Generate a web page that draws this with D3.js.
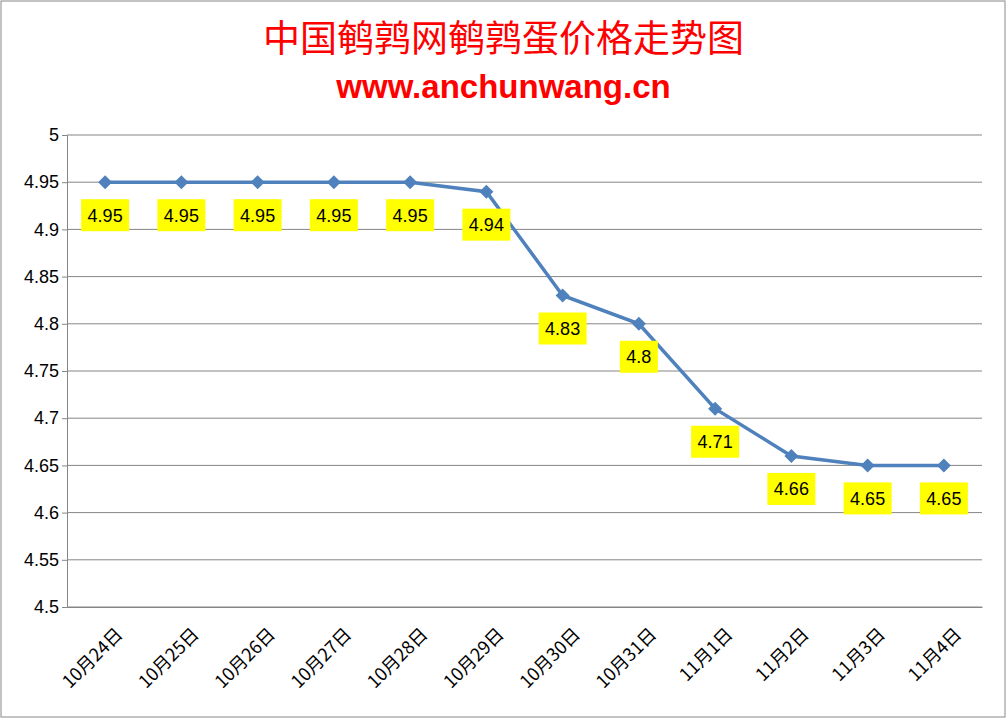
<!DOCTYPE html>
<html>
<head>
<meta charset="UTF-8">
<script src="https://d3js.org/d3.v7.min.js"></script>
<style>
body { margin: 0; background: #fff; }
</style>
</head>
<body>
<div id="chart"></div>
<script>
const dates = ["10月24日","10月25日","10月26日","10月27日","10月28日","10月29日","10月30日","10月31日","11月1日","11月2日","11月3日","11月4日"];
const prices = [4.95, 4.95, 4.95, 4.95, 4.95, 4.94, 4.83, 4.8, 4.71, 4.66, 4.65, 4.65];
const yTicks = [4.5, 4.55, 4.6, 4.65, 4.7, 4.75, 4.8, 4.85, 4.9, 4.95, 5];

const width = 1007, height = 719;
const margin = { top: 135, right: 25, bottom: 112, left: 67 };

const svg = d3.select("#chart").append("svg")
    .attr("width", width).attr("height", height);

svg.append("rect")
    .attr("x", 1).attr("y", 1).attr("width", width - 3).attr("height", height - 3)
    .attr("fill", "#fff").attr("stroke", "#888").attr("stroke-width", 1);

const x = d3.scaleBand().domain(dates).range([margin.left, width - margin.right]);
const y = d3.scaleLinear().domain([4.5, 5]).range([height - margin.bottom, margin.top]);

// grid
svg.append("g").selectAll("line").data(yTicks).enter().append("line")
    .attr("x1", margin.left).attr("x2", width - margin.right)
    .attr("y1", d => y(d)).attr("y2", d => y(d))
    .attr("stroke", "#868686").attr("stroke-width", 1);

// y axis
const yAxis = svg.append("g")
    .attr("transform", `translate(${margin.left},0)`)
    .call(d3.axisLeft(y).tickValues(yTicks).tickFormat(d => d3.format("")(+d.toFixed(2))).tickSize(5));
yAxis.select(".domain").attr("stroke", "#868686");
yAxis.selectAll(".tick line").attr("stroke", "#868686");
yAxis.selectAll("text").attr("font-family", "'Liberation Sans', Arial, sans-serif")
    .attr("font-size", "18px").attr("fill", "#000");

// x axis
const xAxis = svg.append("g")
    .attr("transform", `translate(0,${height - margin.bottom})`)
    .call(d3.axisBottom(x).tickSize(0));
xAxis.select(".domain").attr("stroke", "#868686");
xAxis.selectAll("text")
    .attr("font-family", "'Noto Sans CJK SC', sans-serif")
    .attr("font-size", "18px").attr("fill", "#000")
    .attr("text-anchor", "end")
    .attr("dy", "0.35em")
    .attr("transform", "translate(12,22) rotate(-45)");

const cx = d => x(d) + x.bandwidth() / 2;

// line
svg.append("path")
    .datum(prices)
    .attr("fill", "none").attr("stroke", "#4f81bd").attr("stroke-width", 3.5)
    .attr("d", d3.line().x((d, i) => cx(dates[i])).y(d => y(d)));

// markers
svg.append("g").selectAll("path").data(prices).enter().append("path")
    .attr("d", "M0,-7L7,0L0,7L-7,0Z")
    .attr("transform", (d, i) => `translate(${cx(dates[i])},${y(d)})`)
    .attr("fill", "#4f81bd");

// labels
const lab = svg.append("g").selectAll("g").data(prices).enter().append("g")
    .attr("transform", (d, i) => `translate(${cx(dates[i])},${y(d) + 33})`);
lab.append("rect")
    .attr("x", d => String(d).length > 3 ? -24 : -19)
    .attr("width", d => String(d).length > 3 ? 48 : 38)
    .attr("y", -16).attr("height", 32)
    .attr("fill", "#ffff00");
lab.append("text")
    .attr("text-anchor", "middle").attr("dy", "0.35em")
    .attr("font-family", "'Liberation Sans', Arial, sans-serif")
    .attr("font-size", "18px").attr("fill", "#000")
    .text(d => d);

// titles
svg.append("text")
    .attr("x", width / 2).attr("y", 52).attr("text-anchor", "middle")
    .attr("font-family", "'Noto Sans CJK SC', sans-serif").attr("font-size", "37px")
    .attr("fill", "#ff0000")
    .text("中国鹌鹑网鹌鹑蛋价格走势图");
svg.append("text")
    .attr("x", width / 2).attr("y", 98).attr("text-anchor", "middle")
    .attr("font-family", "'Liberation Sans', Arial, sans-serif").attr("font-size", "33px")
    .attr("font-weight", "bold").attr("fill", "#ff0000")
    .text("www.anchunwang.cn");
</script>
</body>
</html>
